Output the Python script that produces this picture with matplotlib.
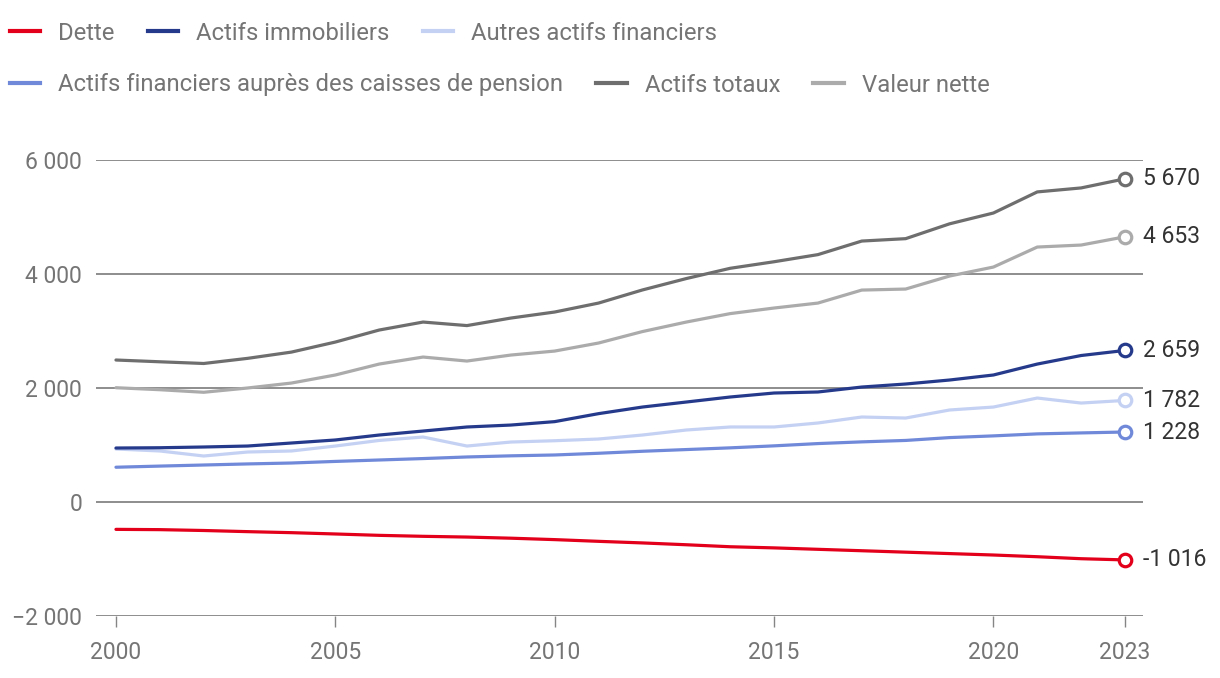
import matplotlib
matplotlib.use("Agg")
import matplotlib.pyplot as plt
from matplotlib.lines import Line2D
import numpy as np

plt.rcParams['font.family'] = ['Roboto', 'DejaVu Sans']

years = list(range(2000, 2024))

dette = [-480, -485, -500, -520, -538, -561, -585, -602, -615, -635, -660, -690,
         -718, -750, -785, -805, -830, -855, -880, -905, -930, -960, -995, -1016]
actifs_immobiliers = [947, 952, 965, 982, 1035, 1088, 1175, 1245, 1316, 1350, 1410, 1550,
                      1666, 1754, 1842, 1912, 1930, 2017, 2070, 2140, 2228, 2420, 2570, 2659]
autres_actifs_fin = [930, 895, 807, 877, 895, 982, 1080, 1140, 982, 1052, 1075, 1105,
                     1175, 1263, 1316, 1316, 1386, 1491, 1473, 1614, 1666, 1824, 1736, 1782]
actifs_pension = [610, 630, 649, 668, 684, 712, 737, 762, 790, 810, 825, 855,
                  890, 920, 950, 985, 1025, 1055, 1080, 1130, 1160, 1195, 1212, 1228]
actifs_totaux = [2491, 2460, 2430, 2520, 2630, 2806, 3017, 3157, 3095, 3227, 3333, 3490,
                 3720, 3920, 4100, 4215, 4340, 4578, 4620, 4880, 5070, 5440, 5510, 5670]
valeur_nette = [2005, 1970, 1925, 2000, 2087, 2228, 2420, 2543, 2473, 2578, 2648, 2789,
                2990, 3157, 3305, 3403, 3490, 3718, 3736, 3964, 4122, 4473, 4508, 4653]

series = [
    ("Dette", dette, "#e2001a"),
    ("Actifs immobiliers", actifs_immobiliers, "#263a8c"),
    ("Autres actifs financiers", autres_actifs_fin, "#c5d1f3"),
    ("Actifs financiers auprès des caisses de pension", actifs_pension, "#7089d9"),
    ("Actifs totaux", actifs_totaux, "#6e6e6e"),
    ("Valeur nette", valeur_nette, "#ababab"),
]
draw_order = [5, 4, 2, 3, 1, 0]

yticks = [-2000, 0, 2000, 4000, 6000]
ytick_labels = ["\u22122 000", "0", "2 000", "4 000", "6 000"]
xticks = [2000, 2005, 2010, 2015, 2020, 2023]

W, H = 1220, 678
fig = plt.figure(figsize=(W / 100, H / 100), dpi=100)
ax = fig.add_axes([96 / W, 1 - 616 / H, (1143 - 96) / W, (616 - 160) / H])

for i in draw_order:
    name, vals, col = series[i]
    ax.plot(years, vals, color=col, lw=2.3, solid_capstyle='round', zorder=3)
    ax.plot(years[-1], vals[-1], 'o', ms=9, mfc='white', mec=col, mew=2.3, zorder=4,
            clip_on=False)
    lab = f"{vals[-1]:,}".replace(",", " ")
    ax.annotate(lab, (years[-1], vals[-1]), xytext=(13, 0), textcoords='offset points',
                va='center', ha='left', fontsize=16.5, color='#333333', annotation_clip=False)

ax.set_xlim(1999.545, 2023.41)
ax.set_ylim(-2000, 6000)
ax.set_yticks(yticks)
ax.set_yticklabels(ytick_labels)
ax.set_xticks(xticks)
ax.grid(axis='y', color='#858585', lw=1.3, zorder=1)
for s in ax.spines.values():
    s.set_visible(False)
ax.tick_params(axis='y', length=0, pad=10, labelsize=16.5, labelcolor='#757575')
ax.tick_params(axis='x', length=8, width=1, color='#858585', pad=10, labelsize=16.5,
               labelcolor='#757575')

# Legend in two rows
fs = 17.2
row1 = [0, 1, 2]
row2 = [3, 4, 5]
for row, ypos in ((row1, 1 - 33 / H), (row2, 1 - 85 / H)):
    handles = [Line2D([], [], color=series[i][2], lw=3) for i in row]
    labels = [series[i][0] for i in row]
    leg = fig.legend(handles, labels, loc='center left', bbox_to_anchor=(10 / W, ypos),
                     ncol=3, frameon=False, fontsize=fs, handlelength=1.27,
                     handletextpad=0.76, columnspacing=1.38, borderaxespad=0,
                     borderpad=0)
    for t in leg.get_texts():
        t.set_color('#757575')

fig.savefig("out.png", dpi=100)
